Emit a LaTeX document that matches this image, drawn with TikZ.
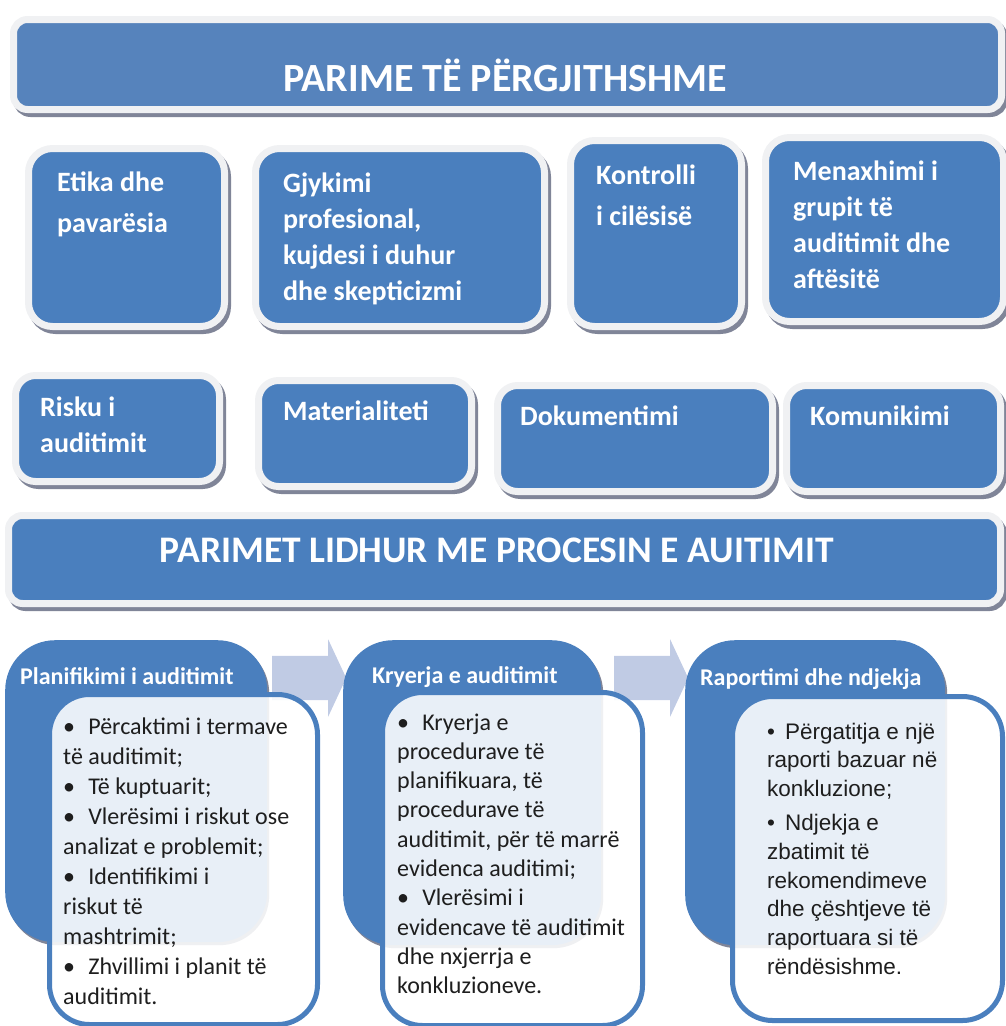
\documentclass[tikz,border=0pt]{standalone}
\usepackage{fontspec}
\setmainfont{Carlito}
\newfontfamily\arialfont{Liberation Sans}
\usepackage{tikz}
\usetikzlibrary{shadows,shapes.arrows,positioning}

\definecolor{boxblue}{RGB}{74,127,190}
\definecolor{titleblue}{RGB}{86,131,188}
\definecolor{framegray}{RGB}{240,241,243}
\definecolor{shadowgray}{RGB}{128,133,152}
\definecolor{arrowblue}{RGB}{192,203,228}
\definecolor{textdark}{RGB}{30,30,30}

\tikzset{
  framed/.style={draw=framegray, line width=7pt, anchor=north west, inner sep=0pt,
    general shadow={shadow xshift=3pt, shadow yshift=-4pt, fill=shadowgray,
      draw=shadowgray, line width=7pt}},
  titlebox/.style={framed, fill=titleblue, rounded corners=14pt},
  pbox/.style={framed, fill=boxblue, rounded corners=24pt},
  stagebox/.style={fill=boxblue, draw=none, rounded corners=50pt, anchor=north west,
    inner sep=0pt, general shadow={shadow xshift=2pt, shadow yshift=-3pt, fill=shadowgray}},
  listbox/.style={draw=boxblue, line width=5pt, fill=white, fill opacity=0.88,
    rounded corners=40pt, anchor=north west, inner sep=0pt},
  flowarrow/.style={single arrow, fill=arrowblue, draw=none, inner xsep=0pt,
    inner ysep=22pt, minimum height=74pt, single arrow head extend=16.5pt,
    single arrow tip angle=130, anchor=tail},
  titletext/.style={font=\bfseries\fontsize{40}{48}\selectfont, text=white,
    anchor=base, inner sep=0pt},
  ptext/.style={font=\bfseries\fontsize{28}{36}\selectfont, text=white,
    anchor=base west, inner sep=0pt, align=flush left, text width=250pt},
  headtext/.style={font=\bfseries\fontsize{24}{28}\selectfont, text=white,
    anchor=base west, inner sep=0pt},
  listtext/.style={font=\fontsize{24}{30}\selectfont, text=textdark,
    anchor=base west, inner sep=0pt, align=flush left, text width=270pt}
}

\begin{document}
\begin{tikzpicture}[x=1pt,y=-1pt]
  \useasboundingbox (0,0) rectangle (1006,1026);

  % general principles
  \node[titlebox, minimum width=988pt, minimum height=90pt] (general) at (10,16) {};
  \node[titletext] (generaltext) at (505,91) {PARIME TË PËRGJITHSHME};

  \node[pbox, minimum width=196pt, minimum height=178pt] (etika) at (25,145) {};
  \node[pbox, minimum width=289pt, minimum height=178pt] (gjykimi) at (252,145) {};
  \node[pbox, minimum width=171pt, minimum height=186pt] (kontrolli) at (567,137) {};
  \node[pbox, minimum width=238pt, minimum height=184pt] (menaxhimi) at (762,134) {};
  \node[ptext, font=\bfseries\fontsize{28}{41}\selectfont] (etikatext) at (57,191) {Etika dhe\\pavarësia};
  \node[ptext] (gjykimitext) at (283,192) {Gjykimi\\profesional,\\kujdesi i duhur\\dhe skepticizmi};
  \node[ptext, font=\bfseries\fontsize{28}{41}\selectfont] (kontrollitext) at (596,184) {Kontrolli\\i cilësisë};
  \node[ptext] (menaxhimitext) at (793,180) {Menaxhimi i\\grupit të\\auditimit dhe\\aftësitë};

  \node[pbox, rounded corners=20pt, minimum width=204pt, minimum height=106pt] (risku) at (12,372) {};
  \node[pbox, rounded corners=20pt, minimum width=213pt, minimum height=106pt] (materialiteti) at (255,377) {};
  \node[pbox, rounded corners=20pt, minimum width=275pt, minimum height=106pt] (dokumentimi) at (494,382) {};
  \node[pbox, rounded corners=20pt, minimum width=214pt, minimum height=106pt] (komunikimi) at (783,382) {};
  \node[ptext] (riskutext) at (40,416) {Risku i\\auditimit};
  \node[ptext] (materialitetitext) at (283,420) {Materialiteti};
  \node[ptext] (dokumentimitext) at (520,425) {Dokumentimi};
  \node[ptext] (komunikimitext) at (810,425) {Komunikimi};

  % process principles
  \node[pbox, rounded corners=14pt, minimum width=992pt, minimum height=88pt] (process) at (5,512) {};
  \node[titletext, font=\bfseries\fontsize{37.5}{44}\selectfont] (processtext) at (497,562) {PARIMET LIDHUR ME PROCESIN E AUITIMIT};

  % stages
  \node[flowarrow] (arrowone) at (272,678) {};
  \node[flowarrow] (arrowtwo) at (614,678) {};

  \node[stagebox, minimum width=262pt, minimum height=302pt] (planning) at (5,640) {};
  \node[stagebox, minimum width=258pt, minimum height=305pt] (conduct) at (343,640) {};
  \node[stagebox, minimum width=260pt, minimum height=305pt] (reporting) at (685,640) {};
  \node[headtext] (planninghead) at (20,684) {Planifikimi i auditimit};
  \node[headtext] (conducthead) at (372,683) {Kryerja e auditimit};
  \node[headtext] (reportinghead) at (700,685) {Raportimi dhe ndjekja};

  \node[listbox, minimum width=268pt, minimum height=330pt] (planninglist) at (47,692) {};
  \node[listbox, minimum width=260pt, minimum height=333pt] (conductlist) at (380,690) {};
  \node[listbox, minimum width=270pt, minimum height=324pt] (reportinglist) at (730,694) {};

  \node[listtext] (planningitems) at (63,734) {\textbullet\hspace{0.55em}Përcaktimi i termave\\
    të auditimit;\\
    \textbullet\hspace{0.55em}Të kuptuarit;\\
    \textbullet\hspace{0.55em}Vlerësimi i riskut ose\\
    analizat e problemit;\\
    \textbullet\hspace{0.55em}Identifikimi i\\
    riskut të\\
    mashtrimit;\\
    \textbullet\hspace{0.55em}Zhvillimi i planit të\\
    auditimit.};
  \node[listtext, font=\fontsize{24}{29.3}\selectfont] (conductitems) at (397,730) {\textbullet\hspace{0.55em}Kryerja e\\
    procedurave të\\
    planifikuara, të\\
    procedurave të\\
    auditimit, për të marrë\\
    evidenca auditimi;\\
    \textbullet\hspace{0.55em}Vlerësimi i\\
    evidencave të auditimit\\
    dhe nxjerrja e\\
    konkluzioneve.};
  \node[listtext, font=\arialfont\fontsize{22.5}{28.8}\selectfont] (reportingitems) at (767,739) {\textbullet\hspace{0.45em}Përgatitja e një\\
    raporti bazuar në\\
    konkluzione;\\[5pt]
    \textbullet\hspace{0.45em}Ndjekja e\\
    zbatimit të\\
    rekomendimeve\\
    dhe çështjeve të\\
    raportuara si të\\
    rëndësishme.};
\end{tikzpicture}
\end{document}
